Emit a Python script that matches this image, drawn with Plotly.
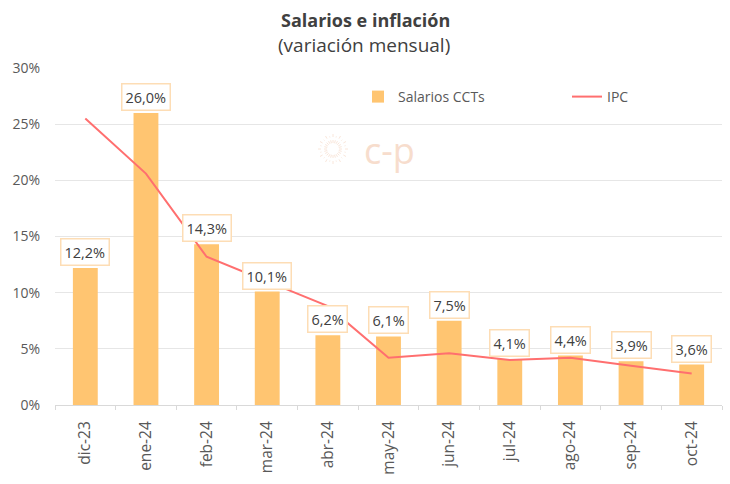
import math
import plotly.graph_objects as go

categories = ["dic-23", "ene-24", "feb-24", "mar-24", "abr-24", "may-24",
              "jun-24", "jul-24", "ago-24", "sep-24", "oct-24"]
salarios = [12.2, 26.0, 14.3, 10.1, 6.2, 6.1, 7.5, 4.1, 4.4, 3.9, 3.6]
ipc = [25.5, 20.6, 13.2, 11.0, 8.8, 4.2, 4.6, 4.0, 4.2, 3.5, 2.8]
y_ticks = [0, 5, 10, 15, 20, 25, 30]

FONT = "Open Sans"
TXT = "#404040"
BAR = "#FFC571"
LINE = "#FF6F6F"

W, H = 730, 484
ML, MR, MT, MB = 55, 8, 68, 79
PW, PH = W - ML - MR, H - MT - MB

def px(x):
    return (x - ML) / PW

def py(y):
    return (MT + PH - y) / PH

fig = go.Figure()
fig.add_trace(go.Bar(x=categories, y=salarios, name="Salarios CCTs",
                     marker=dict(color=BAR, line=dict(width=0)), legend="legend"))
fig.add_trace(go.Scatter(x=categories, y=ipc, name="IPC", mode="lines",
                         line=dict(color=LINE, width=2), legend="legend2"))

annotations = []
for c, v in zip(categories, salarios):
    annotations.append(dict(
        x=c, y=v, xref="x", yref="y", text=f"{v:.1f}%".replace(".", ","),
        showarrow=False, yanchor="bottom", yshift=2,
        font=dict(family=FONT, size=14.5, color=TXT),
        bgcolor="white", bordercolor="#FDDDB5", borderwidth=1.5, borderpad=3))

# title
annotations.append(dict(x=px(365), y=py(20), xref="paper", yref="paper",
                        text="<b>Salarios e inflación</b>", showarrow=False,
                        xanchor="center", yanchor="middle",
                        font=dict(family=FONT, size=18, color=TXT)))
annotations.append(dict(x=px(364), y=py(45), xref="paper", yref="paper",
                        text="(variación mensual)", showarrow=False,
                        xanchor="center", yanchor="middle",
                        font=dict(family=FONT, size=19, color=TXT)))

# watermark "c-p"
annotations.append(dict(x=px(389), y=py(150), xref="paper", yref="paper",
                        text="c-p", showarrow=False, xanchor="center", yanchor="middle",
                        font=dict(family=FONT, size=36, color="#F7DDCD")))

shapes = []
cx, cy = 333, 149
for i in range(24):
    a = 2 * math.pi * i / 24
    r1, r2 = 6, (17 if i % 2 == 0 else 13)
    shapes.append(dict(type="line", xref="paper", yref="paper",
                       x0=px(cx + r1 * math.cos(a)), y0=py(cy + r1 * math.sin(a)),
                       x1=px(cx + r2 * math.cos(a)), y1=py(cy + r2 * math.sin(a)),
                       line=dict(color="#F9E6DA", width=1, dash="dot"), layer="below"))

leg_common = dict(orientation="h", xanchor="left", yanchor="middle",
                  font=dict(family=FONT, size=14, color="#595959"),
                  bgcolor="rgba(0,0,0,0)")

fig.update_layout(
    width=W, height=H,
    margin=dict(l=ML, r=MR, t=MT, b=MB),
    paper_bgcolor="white", plot_bgcolor="white",
    font=dict(family=FONT, color=TXT),
    bargap=0.59,
    showlegend=True,
    legend=dict(x=px(358), y=py(97), **leg_common),
    legend2=dict(x=px(567), y=py(97), **leg_common),
    xaxis=dict(type="category", tickangle=-90, tickson="boundaries",
               ticks="outside", ticklen=4, tickcolor="#d9d9d9",
               showline=True, linecolor="#d9d9d9", linewidth=1,
               ticklabelstandoff=9,
               showgrid=False, tickfont=dict(family=FONT, size=15.5, color="#595959")),
    yaxis=dict(range=[0, 30], tickvals=y_ticks,
               ticktext=[f"{t}%" for t in y_ticks],
               showgrid=True, gridcolor="#e6e6e6", gridwidth=1,
               zeroline=False, showline=False, ticks="",
               ticklabelstandoff=14,
               tickfont=dict(family=FONT, size=14, color="#595959")),
    annotations=annotations,
    shapes=shapes,
)

fig.write_html("out.html", config={"displayModeBar": False},
               post_script="document.body.style.margin='0px';")
